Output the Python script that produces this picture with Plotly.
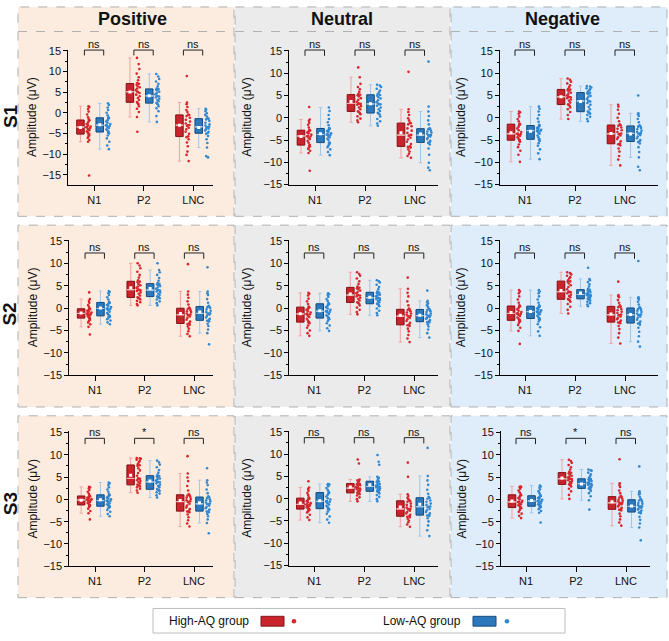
import numpy as np
import plotly.graph_objects as go

# ---------------- data (amplitudes in µV, one value per participant) ----------------
COMPONENTS = ["N1", "P2", "LNC"]
CONDITIONS = ["Positive", "Neutral", "Negative"]
SESSIONS = ["S1", "S2", "S3"]
GROUP_NAMES = ["High-AQ group", "Low-AQ group"]
Y_TICKS = [-15, -10, -5, 0, 5, 10, 15]

# S1 - Positive
S1_POS_HIGH_N1 = [-15.2, -7.0, -6.6, -6.1, -5.8, -5.5, -5.3, -5.1, -4.8, -4.5, -4.2, -3.9, -3.7, -3.5, -3.4, -3.3, -3.0, -2.7, -2.4, -2.1, -1.8, -1.6, -1.1, -0.4, 0.3, 0.9, 1.4, 1.6]
S1_POS_HIGH_P2 = [-4.6, -1.0, 0.2, 1.0, 1.6, 2.1, 2.4, 2.6, 3.1, 3.6, 4.0, 4.4, 4.8, 5.05, 5.15, 5.5, 5.9, 6.2, 6.5, 6.8, 7.05, 7.2, 7.9, 8.6, 9.5, 10.6, 11.8, 13.3]
S1_POS_HIGH_LNC = [-11.7, -10.2, -9.4, -8.1, -7.2, -6.4, -5.9, -5.7, -5.1, -4.6, -4.0, -3.6, -3.2, -3.05, -2.95, -2.6, -2.1, -1.7, -1.2, -0.8, -0.55, -0.4, 0.2, 0.7, 1.4, 2.1, 2.5, 8.9]
S1_POS_LOW_N1 = [-8.8, -7.9, -7.0, -6.2, -5.5, -5.0, -4.8, -4.6, -4.3, -4.0, -3.7, -3.4, -3.2, -3.05, -2.95, -2.7, -2.4, -2.1, -1.8, -1.5, -1.25, -1.1, -0.6, 0.0, 0.7, 1.3, 1.9, 2.3]
S1_POS_LOW_P2 = [-2.2, -0.8, 0.4, 1.1, 1.6, 2.0, 2.2, 2.4, 2.8, 3.1, 3.4, 3.7, 3.95, 4.05, 4.15, 4.5, 4.8, 5.1, 5.4, 5.6, 5.75, 5.9, 6.4, 7.0, 7.6, 8.2, 8.8, 9.4]
S1_POS_LOW_LNC = [-10.8, -10.5, -8.4, -7.3, -6.4, -5.6, -5.1, -4.9, -4.6, -4.3, -4.0, -3.8, -3.55, -3.45, -3.35, -3.1, -2.8, -2.4, -2.0, -1.6, -1.45, -1.3, -0.9, -0.5, -0.1, 0.4, 0.8, 1.0]
# S1 - Neutral
S1_NEU_HIGH_N1 = [-11.9, -7.9, -7.4, -7.0, -6.7, -6.4, -6.25, -6.1, -5.6, -5.2, -4.8, -4.5, -4.2, -4.15, -4.05, -3.8, -3.5, -3.3, -3.1, -2.9, -2.85, -2.7, -2.2, -1.6, -1.1, -0.7, -0.4, 2.4]
S1_NEU_HIGH_P2 = [-1.0, -0.6, -0.2, 0.3, 0.8, 1.1, 1.3, 1.45, 1.9, 2.3, 2.6, 2.9, 3.1, 3.15, 3.25, 3.6, 4.0, 4.4, 4.8, 5.05, 5.15, 5.3, 5.8, 6.4, 6.9, 7.6, 9.1, 11.3]
S1_NEU_HIGH_LNC = [-9.0, -8.6, -8.1, -7.6, -7.1, -6.7, -6.55, -6.4, -5.9, -5.4, -4.9, -4.5, -4.1, -3.95, -3.85, -3.4, -2.9, -2.4, -1.9, -1.5, -1.25, -1.1, -0.6, -0.1, 0.6, 1.3, 1.9, 10.3]
S1_NEU_LOW_N1 = [-8.4, -7.7, -7.1, -6.6, -6.2, -5.8, -5.65, -5.55, -5.0, -4.7, -4.4, -4.1, -3.85, -3.8, -3.7, -3.5, -3.2, -3.0, -2.8, -2.55, -2.45, -2.3, -1.7, -1.0, -0.3, 0.6, 1.5, 2.3]
S1_NEU_LOW_P2 = [-1.8, -1.3, -0.8, -0.3, 0.3, 0.8, 0.95, 1.1, 1.5, 1.9, 2.3, 2.7, 3.0, 3.05, 3.15, 3.5, 3.9, 4.3, 4.6, 4.95, 5.1, 5.3, 5.7, 6.1, 6.5, 6.9, 7.2, 7.4]
S1_NEU_LOW_LNC = [-11.8, -11.2, -10.1, -8.3, -6.9, -6.0, -5.65, -5.5, -5.2, -4.8, -4.5, -4.2, -4.0, -3.95, -3.85, -3.6, -3.3, -3.1, -2.9, -2.6, -2.5, -2.35, -1.5, -0.6, 0.4, 1.4, 2.5, 12.6]
# S1 - Negative
S1_NEG_HIGH_N1 = [-9.9, -8.3, -7.4, -6.6, -6.0, -5.4, -5.15, -5.0, -4.7, -4.4, -4.1, -3.9, -3.7, -3.65, -3.55, -3.2, -2.8, -2.4, -2.0, -1.6, -1.5, -1.3, -0.8, -0.3, 0.3, 0.9, 1.2, 1.4]
S1_NEG_HIGH_P2 = [-0.3, 0.6, 1.3, 1.9, 2.3, 2.7, 2.85, 3.0, 3.4, 3.8, 4.1, 4.4, 4.6, 4.65, 4.75, 5.0, 5.3, 5.6, 5.9, 6.2, 6.3, 6.5, 6.9, 7.3, 7.7, 8.1, 8.5, 8.8]
S1_NEG_HIGH_LNC = [-10.7, -9.4, -8.6, -7.6, -6.9, -6.2, -5.95, -5.8, -5.3, -4.8, -4.4, -4.0, -3.7, -3.65, -3.55, -3.2, -2.8, -2.5, -2.2, -1.8, -1.7, -1.5, -0.8, 0.0, 0.9, 1.8, 2.5, 2.9]
S1_NEG_LOW_N1 = [-9.3, -8.0, -7.1, -6.3, -5.7, -5.2, -4.95, -4.8, -4.4, -4.0, -3.6, -3.3, -3.0, -2.95, -2.85, -2.7, -2.5, -2.3, -2.1, -1.9, -1.8, -1.6, -0.9, -0.2, 0.6, 1.4, 2.0, 2.5]
S1_NEG_LOW_P2 = [-0.8, -0.3, 0.2, 0.6, 0.9, 1.1, 1.25, 1.4, 1.9, 2.4, 2.9, 3.3, 3.65, 3.7, 3.8, 4.2, 4.6, 4.9, 5.2, 5.5, 5.6, 5.8, 6.1, 6.4, 6.6, 6.8, 7.0, 7.1]
S1_NEG_LOW_LNC = [-11.8, -11.0, -8.9, -7.7, -6.6, -5.8, -5.45, -5.3, -5.0, -4.6, -4.2, -3.9, -3.6, -3.55, -3.45, -3.2, -2.9, -2.6, -2.3, -2.0, -1.9, -1.7, -1.0, -0.3, 0.4, 0.8, 1.0, 5.0]
# S2 - Positive
S2_POS_HIGH_N1 = [-5.9, -4.2, -3.6, -3.2, -2.9, -2.6, -2.35, -2.2, -2.0, -1.8, -1.6, -1.45, -1.3, -1.25, -1.15, -1.0, -0.8, -0.6, -0.45, -0.3, -0.2, -0.05, 0.3, 0.7, 1.2, 1.6, 2.0, 3.5]
S2_POS_HIGH_P2 = [0.6, 0.9, 1.3, 1.6, 1.9, 2.15, 2.25, 2.4, 2.8, 3.2, 3.5, 3.8, 4.0, 4.05, 4.15, 4.5, 4.8, 5.1, 5.4, 5.8, 5.9, 6.2, 6.8, 7.4, 8.1, 8.9, 9.5, 10.0]
S2_POS_HIGH_LNC = [-6.3, -5.8, -5.2, -4.6, -4.1, -3.7, -3.55, -3.4, -3.0, -2.6, -2.2, -1.9, -1.6, -1.55, -1.45, -1.2, -0.9, -0.7, -0.5, -0.2, -0.1, 0.1, 0.8, 1.5, 2.3, 3.0, 3.7, 9.8]
S2_POS_LOW_N1 = [-3.6, -3.2, -2.8, -2.5, -2.2, -1.95, -1.85, -1.7, -1.4, -1.1, -0.8, -0.5, -0.2, -0.15, -0.05, 0.2, 0.45, 0.7, 0.9, 1.1, 1.2, 1.4, 1.9, 2.4, 2.9, 3.3, 3.6, 3.8]
S2_POS_LOW_P2 = [0.6, 1.1, 1.5, 1.9, 2.2, 2.4, 2.45, 2.6, 2.9, 3.2, 3.5, 3.7, 3.9, 3.95, 4.05, 4.3, 4.6, 4.9, 5.1, 5.3, 5.4, 5.6, 6.1, 6.7, 7.4, 8.0, 8.5, 10.0]
S2_POS_LOW_LNC = [-8.1, -5.6, -4.8, -4.0, -3.5, -3.0, -2.85, -2.7, -2.4, -2.1, -1.8, -1.5, -1.3, -1.25, -1.15, -0.9, -0.6, -0.3, 0.0, 0.2, 0.3, 0.5, 1.2, 2.0, 2.9, 3.3, 3.7, 9.1]
# S2 - Neutral
S2_NEU_HIGH_N1 = [-6.2, -5.6, -5.0, -4.4, -3.9, -3.4, -3.25, -3.1, -2.8, -2.4, -2.0, -1.7, -1.4, -1.35, -1.25, -1.0, -0.7, -0.4, -0.2, 0.05, 0.15, 0.35, 0.9, 1.5, 2.1, 2.8, 3.2, 3.4]
S2_NEU_HIGH_P2 = [-1.4, -0.9, -0.4, 0.1, 0.6, 1.0, 1.15, 1.3, 1.7, 2.0, 2.3, 2.6, 2.8, 2.85, 2.95, 3.3, 3.6, 3.9, 4.2, 4.45, 4.55, 4.8, 5.4, 6.0, 6.6, 7.2, 7.6, 8.0]
S2_NEU_HIGH_LNC = [-7.6, -6.8, -6.0, -5.2, -4.6, -4.0, -3.85, -3.7, -3.3, -2.9, -2.5, -2.2, -1.9, -1.85, -1.75, -1.5, -1.2, -1.0, -0.7, -0.45, -0.35, -0.1, 0.6, 1.5, 2.6, 3.4, 4.3, 6.8]
S2_NEU_LOW_N1 = [-5.1, -4.5, -3.9, -3.4, -2.9, -2.5, -2.35, -2.2, -1.9, -1.6, -1.3, -1.0, -0.8, -0.75, -0.65, -0.4, -0.1, 0.2, 0.5, 0.8, 0.9, 1.1, 1.6, 2.0, 2.5, 2.9, 3.1, 3.3]
S2_NEU_LOW_P2 = [-1.6, -1.1, -0.6, -0.1, 0.4, 0.75, 0.85, 1.0, 1.3, 1.6, 1.8, 2.0, 2.2, 2.25, 2.35, 2.6, 2.8, 3.0, 3.2, 3.35, 3.45, 3.7, 4.2, 4.7, 5.2, 5.7, 6.0, 6.2]
S2_NEU_LOW_LNC = [-6.6, -5.6, -4.8, -4.1, -3.6, -3.2, -3.15, -3.0, -2.7, -2.4, -2.2, -2.0, -1.8, -1.75, -1.65, -1.4, -1.2, -0.9, -0.7, -0.45, -0.35, -0.2, 0.2, 0.6, 1.0, 1.3, 1.6, 3.9]
# S2 - Negative
S2_NEG_HIGH_N1 = [-8.0, -5.1, -4.4, -3.8, -3.3, -3.0, -2.85, -2.7, -2.4, -2.1, -1.8, -1.5, -1.3, -1.25, -1.15, -0.9, -0.6, -0.3, 0.0, 0.3, 0.4, 0.6, 1.2, 1.9, 2.6, 3.3, 3.7, 4.0]
S2_NEG_HIGH_P2 = [-1.2, -0.4, 0.3, 0.9, 1.4, 1.75, 1.85, 2.0, 2.4, 2.7, 3.0, 3.3, 3.55, 3.6, 3.7, 4.2, 4.7, 5.1, 5.5, 5.85, 5.95, 6.2, 6.6, 6.9, 7.2, 7.5, 7.8, 8.0]
S2_NEG_HIGH_LNC = [-7.9, -6.6, -5.6, -4.7, -4.0, -3.4, -3.25, -3.1, -2.8, -2.5, -2.2, -1.9, -1.6, -1.55, -1.45, -1.1, -0.8, -0.5, -0.2, 0.2, 0.3, 0.6, 1.2, 1.8, 2.4, 2.7, 2.9, 5.9]
S2_NEG_LOW_N1 = [-6.2, -5.2, -4.3, -3.6, -3.0, -2.6, -2.45, -2.3, -2.0, -1.7, -1.4, -1.1, -0.9, -0.85, -0.75, -0.5, -0.3, -0.1, 0.1, 0.25, 0.35, 0.6, 1.2, 1.9, 2.6, 3.3, 3.7, 4.0]
S2_NEG_LOW_P2 = [0.4, 0.8, 1.1, 1.4, 1.7, 1.9, 1.95, 2.1, 2.3, 2.5, 2.7, 2.85, 2.95, 3.0, 3.05, 3.2, 3.4, 3.6, 3.8, 3.95, 4.05, 4.3, 4.8, 5.3, 5.8, 6.2, 6.5, 9.0]
S2_NEG_LOW_LNC = [-8.6, -7.5, -6.3, -5.3, -4.4, -3.7, -3.45, -3.3, -3.0, -2.6, -2.2, -1.9, -1.6, -1.55, -1.45, -1.2, -0.9, -0.6, -0.4, -0.2, -0.05, 0.2, 0.8, 1.4, 1.9, 2.2, 2.4, 10.5]
# S3 - Positive
S3_POS_HIGH_N1 = [-4.5, -3.1, -2.6, -2.1, -1.7, -1.45, -1.35, -1.2, -1.0, -0.8, -0.6, -0.4, -0.2, -0.15, -0.1, 0.05, 0.2, 0.35, 0.5, 0.65, 0.7, 0.9, 1.3, 1.7, 2.1, 2.5, 2.7, 2.8]
S3_POS_HIGH_P2 = [1.5, 2.0, 2.4, 2.7, 2.9, 3.1, 3.15, 3.3, 3.6, 3.9, 4.1, 4.3, 4.6, 4.65, 4.75, 5.3, 5.9, 6.5, 7.0, 7.5, 7.65, 7.9, 8.3, 8.6, 8.9, 9.1, 9.2, 9.3]
S3_POS_HIGH_LNC = [-6.1, -5.4, -4.7, -4.0, -3.4, -2.9, -2.75, -2.6, -2.2, -1.8, -1.4, -1.0, -0.6, -0.55, -0.45, -0.2, 0.1, 0.4, 0.6, 0.85, 0.95, 1.2, 2.0, 3.0, 4.1, 4.9, 5.8, 9.7]
S3_POS_LOW_N1 = [-3.8, -3.3, -2.8, -2.4, -2.0, -1.7, -1.65, -1.5, -1.3, -1.1, -0.9, -0.6, -0.35, -0.3, -0.25, 0.0, 0.2, 0.4, 0.6, 0.85, 0.95, 1.2, 1.7, 2.2, 2.7, 3.2, 3.6, 3.8]
S3_POS_LOW_P2 = [0.4, 0.9, 1.3, 1.6, 1.9, 2.1, 2.15, 2.3, 2.7, 3.0, 3.3, 3.6, 3.85, 3.9, 3.95, 4.2, 4.5, 4.7, 4.9, 5.15, 5.25, 5.5, 6.0, 6.6, 7.2, 7.8, 8.3, 8.7]
S3_POS_LOW_LNC = [-7.6, -5.3, -4.5, -3.8, -3.3, -2.9, -2.75, -2.6, -2.3, -2.0, -1.7, -1.4, -1.1, -1.05, -0.95, -0.7, -0.4, -0.2, 0.0, 0.3, 0.45, 0.7, 1.4, 2.2, 3.2, 3.8, 4.3, 7.0]
# S3 - Neutral
S3_NEU_HIGH_N1 = [-4.8, -4.2, -3.6, -3.1, -2.8, -2.55, -2.45, -2.3, -2.1, -1.9, -1.7, -1.5, -1.35, -1.3, -1.25, -1.0, -0.8, -0.55, -0.3, -0.05, 0.05, 0.3, 0.8, 1.3, 1.8, 2.2, 2.5, 3.9]
S3_NEU_HIGH_P2 = [-0.6, -0.1, 0.3, 0.7, 1.0, 1.15, 1.2, 1.35, 1.6, 1.8, 2.0, 2.15, 2.3, 2.35, 2.4, 2.6, 2.8, 3.0, 3.15, 3.25, 3.35, 3.5, 3.8, 4.0, 4.1, 4.3, 7.9, 8.8]
S3_NEU_HIGH_LNC = [-6.3, -5.8, -5.3, -4.9, -4.5, -4.15, -4.05, -3.9, -3.6, -3.3, -3.0, -2.7, -2.4, -2.35, -2.25, -2.0, -1.7, -1.4, -1.1, -0.7, -0.55, -0.3, -0.1, 0.2, 0.6, 1.0, 4.9, 8.1]
S3_NEU_LOW_N1 = [-5.4, -4.7, -4.0, -3.4, -2.9, -2.45, -2.35, -2.2, -1.9, -1.6, -1.3, -1.0, -0.7, -0.65, -0.55, -0.2, 0.1, 0.5, 0.8, 1.15, 1.3, 1.6, 2.0, 2.4, 2.8, 3.1, 3.2, 3.3]
S3_NEU_LOW_P2 = [-0.6, -0.1, 0.4, 0.8, 1.2, 1.5, 1.55, 1.7, 1.9, 2.1, 2.3, 2.5, 2.65, 2.7, 2.75, 2.9, 3.1, 3.3, 3.5, 3.75, 3.85, 4.1, 4.5, 4.7, 4.9, 7.6, 8.3, 9.8]
S3_NEU_LOW_LNC = [-8.4, -7.1, -6.0, -5.1, -4.4, -3.9, -3.8, -3.65, -3.3, -3.0, -2.6, -2.3, -1.9, -1.85, -1.75, -1.4, -1.1, -0.7, -0.4, 0.0, 0.15, 0.4, 1.1, 2.0, 3.1, 4.1, 5.1, 11.4]
# S3 - Negative
S3_NEG_HIGH_N1 = [-4.2, -3.7, -3.2, -2.8, -2.4, -2.0, -1.95, -1.8, -1.5, -1.3, -1.1, -0.9, -0.65, -0.6, -0.55, -0.3, 0.0, 0.3, 0.55, 0.8, 0.95, 1.2, 1.6, 2.0, 2.4, 2.7, 2.8, 2.9]
S3_NEG_HIGH_P2 = [0.1, 1.0, 1.8, 2.4, 2.9, 3.2, 3.25, 3.4, 3.7, 3.9, 4.1, 4.3, 4.55, 4.6, 4.65, 4.9, 5.1, 5.3, 5.6, 5.85, 5.95, 6.2, 6.7, 7.2, 7.7, 8.2, 8.6, 8.9]
S3_NEG_HIGH_LNC = [-5.9, -5.2, -4.5, -3.8, -3.2, -2.5, -2.35, -2.2, -1.9, -1.6, -1.3, -1.1, -0.85, -0.8, -0.75, -0.5, -0.3, -0.1, 0.15, 0.4, 0.55, 0.8, 1.4, 2.0, 2.8, 3.2, 3.6, 9.0]
S3_NEG_LOW_N1 = [-5.2, -3.0, -2.6, -2.2, -1.9, -1.7, -1.65, -1.5, -1.3, -1.1, -0.9, -0.7, -0.45, -0.4, -0.35, -0.1, 0.1, 0.3, 0.5, 0.65, 0.75, 1.0, 1.4, 1.8, 2.2, 2.6, 2.9, 3.1]
S3_NEG_LOW_P2 = [-2.3, -0.2, 0.7, 1.4, 1.9, 2.25, 2.35, 2.5, 2.7, 2.9, 3.1, 3.3, 3.45, 3.5, 3.55, 3.7, 3.9, 4.1, 4.3, 4.45, 4.55, 4.8, 5.2, 5.6, 6.0, 6.4, 6.55, 6.7]
S3_NEG_LOW_LNC = [-9.2, -6.3, -5.4, -4.6, -3.9, -3.1, -2.95, -2.8, -2.5, -2.3, -2.1, -1.9, -1.65, -1.6, -1.55, -1.3, -1.0, -0.8, -0.5, -0.25, -0.15, 0.1, 0.6, 1.1, 1.3, 1.5, 1.8, 7.4]

# significance labels (N1, P2, LNC)
SIG_S1_POS = ["ns", "ns", "ns"]
SIG_S1_NEU = ["ns", "ns", "ns"]
SIG_S1_NEG = ["ns", "ns", "ns"]
SIG_S2_POS = ["ns", "ns", "ns"]
SIG_S2_NEU = ["ns", "ns", "ns"]
SIG_S2_NEG = ["ns", "ns", "ns"]
SIG_S3_POS = ["ns", "*", "ns"]
SIG_S3_NEU = ["ns", "ns", "ns"]
SIG_S3_NEG = ["ns", "*", "ns"]

# ---------------- layout / style ----------------
W, H = 669, 641
FONT = "Liberation Sans, Arial, Helvetica, sans-serif"
COND_KEYS = ["POS", "NEU", "NEG"]
GROUP_KEYS = ["HIGH", "LOW"]

STYLE = {
    "HIGH": dict(fill="#C9232B", edge="#801519", whisker="#EFA3A0", median="#F3B5B1", point="#D9252B"),
    "LOW": dict(fill="#2C78BC", edge="#184B7B", whisker="#A3C6E8", median="#AACDEE", point="#3088D2"),
}
BOX_OFF = {"HIGH": -0.28, "LOW": 0.11}
PTS_OFF = {"HIGH": -0.115, "LOW": 0.28}
BOX_W = 0.15
PTS_W = 0.1
PT_SIZE = 2.6
BR_X = (-0.2, 0.19)
BR_TOP = [15.2, 12.3, 13.7]
BR_LEG = 1.3
Y_TOP_PAD = 0.3

# pixel geometry of each panel: y-axis x pos, x-axis right end, category 1/3 px, px of y=15 / y=-15, x-axis y px
PANEL_PX = [
    [dict(xl=68.3, xr=213, c1=94.3, c3=193.3, p15=46.7, pm15=172.7, yb=182.7),
     dict(xl=289.3, xr=438, c1=315, c3=415, p15=46.7, pm15=182.7, yb=182.7),
     dict(xl=500, xr=658, c1=525, c3=625, p15=46.7, pm15=182.7, yb=182.7)],
    [dict(xl=69.3, xr=213, c1=95, c3=194.3, p15=240, pm15=376.7, yb=376.7),
     dict(xl=289.3, xr=438, c1=314.3, c3=414.3, p15=240, pm15=376.7, yb=376.7),
     dict(xl=500, xr=658, c1=525, c3=625, p15=240, pm15=376.7, yb=376.7)],
    [dict(xl=69.3, xr=213, c1=95, c3=194, p15=435, pm15=571, yb=571),
     dict(xl=289.3, xr=438, c1=314.3, c3=414.3, p15=434.3, pm15=570.3, yb=570.3),
     dict(xl=501, xr=650, c1=526, c3=626, p15=435, pm15=571, yb=571)],
]
TITLE_STANDOFF = [3, 9, 5]
ROW_PX = [(2, 215), (224, 409), (418, 603)]
COL_PX = [(18, 234), (235, 450), (451, 667)]
COL_BG = ["#FCECDF", "#EBEBEB", "#DFECF9"]
HEADER_LINE_PX = 27
HEADER_X_PX = [132, 342, 562]
HEADER_Y_PX = 14
ROW_LABEL_X_PX = 10
ROW_LABEL_Y_PX = [113, 315, 508]


def px(x):
    return x / W


def py(y):
    return 1 - y / H


def box_stats(v):
    a = np.asarray(v, float)
    q1, med, q3 = np.percentile(a, [25, 50, 75])
    iqr = q3 - q1
    lf = a[a >= q1 - 1.5 * iqr].min()
    uf = a[a <= q3 + 1.5 * iqr].max()
    return q1, med, q3, lf, uf, a.mean()


fig = go.Figure()
layout = {}
shapes = []
annotations = []

# background panels
for r, (y0, y1) in enumerate(ROW_PX):
    for c, (x0, x1) in enumerate(COL_PX):
        shapes.append(dict(type="rect", xref="paper", yref="paper", x0=px(x0), x1=px(x1), y0=py(y1), y1=py(y0),
                           fillcolor=COL_BG[c], line=dict(color="#AFAFAF", width=1, dash="dash"), layer="below"))
        if r == 0:
            shapes.append(dict(type="line", xref="paper", yref="paper", x0=px(x0), x1=px(x1),
                               y0=py(HEADER_LINE_PX), y1=py(HEADER_LINE_PX),
                               line=dict(color="#AFAFAF", width=1, dash="dash"), layer="below"))

for c, cond in enumerate(CONDITIONS):
    annotations.append(dict(text=f"<b>{cond}</b>", xref="paper", yref="paper", x=px(HEADER_X_PX[c]),
                            y=py(HEADER_Y_PX), xanchor="center", yanchor="middle", showarrow=False,
                            font=dict(family=FONT, size=18, color="#111")))
for r, s in enumerate(SESSIONS):
    annotations.append(dict(text=f"<b>{s}</b>", xref="paper", yref="paper", x=px(ROW_LABEL_X_PX),
                            y=py(ROW_LABEL_Y_PX[r]), xanchor="center", yanchor="middle", showarrow=False,
                            textangle=-90, font=dict(family=FONT, size=19, color="#111")))

for r, s in enumerate(SESSIONS):
    for c, ck in enumerate(COND_KEYS):
        k = r * 3 + c
        xa = "x" if k == 0 else f"x{k + 1}"
        ya = "y" if k == 0 else f"y{k + 1}"
        g = PANEL_PX[r][c]
        ppu_y = (g["pm15"] - g["p15"]) / 30.0
        y_lo = -15 - (g["yb"] - g["pm15"]) / ppu_y
        y_hi = 15 + Y_TOP_PAD
        ytop_px = g["p15"] - Y_TOP_PAD * ppu_y
        ppu_x = (g["c3"] - g["c1"]) / 2.0
        x_lo = 1 - (g["c1"] - g["xl"]) / ppu_x
        x_hi = 3 + (g["xr"] - g["c3"]) / ppu_x

        layout["xaxis" if k == 0 else f"xaxis{k + 1}"] = dict(
            domain=[px(g["xl"]), px(g["xr"])], range=[x_lo, x_hi], anchor=ya,
            tickmode="array", tickvals=[1, 2, 3], ticktext=COMPONENTS,
            ticks="outside", ticklen=5, tickwidth=1, tickcolor="#000",
            showline=True, linecolor="#000", linewidth=1, showgrid=False, zeroline=False,
            tickfont=dict(family=FONT, size=11, color="#111"), fixedrange=True)
        layout["yaxis" if k == 0 else f"yaxis{k + 1}"] = dict(
            domain=[py(g["yb"]), py(ytop_px)], range=[y_lo, y_hi], anchor=xa,
            tickmode="array", tickvals=Y_TICKS,
            ticks="outside", ticklen=4, tickwidth=1, tickcolor="#000",
            minor=dict(ticks="outside", ticklen=2, tickwidth=1, tickcolor="#000", dtick=2.5, tick0=0, showgrid=False),
            showline=True, linecolor="#000", linewidth=1, showgrid=False, zeroline=False,
            tickfont=dict(family=FONT, size=11, color="#111"),
            title=dict(text="Amplitude (μV)", font=dict(family=FONT, size=12, color="#111"),
                       standoff=TITLE_STANDOFF[c]),
            fixedrange=True)

        for gk in GROUP_KEYS:
            st = STYLE[gk]
            vals = [globals()[f"{s}_{ck}_{gk}_{comp}"] for comp in COMPONENTS]
            stats = [box_stats(v) for v in vals]
            pos = [i + 1 + BOX_OFF[gk] for i in range(3)]
            q1 = [t[0] for t in stats]
            med = [t[1] for t in stats]
            q3 = [t[2] for t in stats]
            lf = [t[3] for t in stats]
            uf = [t[4] for t in stats]
            mean = [t[5] for t in stats]
            common = dict(xaxis=xa, yaxis=ya, orientation="v", width=BOX_W, showlegend=False,
                          hoverinfo="skip", boxpoints=False)
            # whiskers (light)
            fig.add_trace(go.Box(x=pos, q1=q1, median=med, q3=q3, lowerfence=lf, upperfence=uf,
                                 fillcolor="rgba(0,0,0,0)", line=dict(color=st["whisker"], width=1),
                                 whiskerwidth=0.45, **common))
            # filled box
            fig.add_trace(go.Box(x=pos, q1=q1, median=med, q3=q3, lowerfence=q1, upperfence=q3,
                                 fillcolor=st["fill"], line=dict(color=st["edge"], width=1),
                                 whiskerwidth=0, **common))
            # median line (light)
            fig.add_trace(go.Box(x=pos, q1=med, median=med, q3=med, lowerfence=med, upperfence=med,
                                 fillcolor="rgba(0,0,0,0)", line=dict(color=st["median"], width=1),
                                 whiskerwidth=0, **common))
            # mean marker
            fig.add_trace(go.Scatter(x=pos, y=mean, xaxis=xa, yaxis=ya, mode="markers",
                                     marker=dict(symbol="square", size=3, color="white"),
                                     showlegend=False, hoverinfo="skip"))
            # raw points (jittered)
            xs, ys = [], []
            for i, v in enumerate(vals):
                xs += [i + 1 + PTS_OFF[gk]] * len(v)
                ys += list(v)
            fig.add_trace(go.Box(x=xs, y=ys, xaxis=xa, yaxis=ya, orientation="v", width=PTS_W,
                                 boxpoints="all", jitter=1.0, pointpos=0,
                                 fillcolor="rgba(0,0,0,0)", line=dict(color="rgba(0,0,0,0)", width=0),
                                 whiskerwidth=0,
                                 marker=dict(size=PT_SIZE, color=st["point"], line=dict(width=0)),
                                 showlegend=False, hoverinfo="skip"))

        # significance brackets
        sig = globals()[f"SIG_{s}_{ck}"]
        ytop_d = (BR_TOP[r] - y_lo) / (y_hi - y_lo)
        yleg_d = (BR_TOP[r] - BR_LEG - y_lo) / (y_hi - y_lo)
        for i in range(3):
            x0 = i + 1 + BR_X[0]
            x1 = i + 1 + BR_X[1]
            shapes.append(dict(type="path", xref=xa, yref=f"{ya} domain",
                               path=f"M{x0},{yleg_d} L{x0},{ytop_d} L{x1},{ytop_d} L{x1},{yleg_d}",
                               line=dict(color="#222", width=1)))
            annotations.append(dict(text=sig[i], xref=xa, yref=f"{ya} domain", x=(x0 + x1) / 2, y=ytop_d,
                                    xanchor="center", yanchor="bottom", showarrow=False, yshift=-2,
                                    font=dict(family=FONT, size=11, color="#111")))

# legend box
LEG_BOX = (153, 614, 565, 639)
LEG_Y = 627
shapes.append(dict(type="rect", xref="paper", yref="paper", x0=px(LEG_BOX[0]), x1=px(LEG_BOX[2]),
                   y0=py(LEG_BOX[3]), y1=py(LEG_BOX[1]), fillcolor="white",
                   line=dict(color="#BDBDBD", width=1)))
LEG_ITEMS = [(167, 261, 294, "HIGH"), (381, 473, 507, "LOW")]
for (tx, rx, dx, gk), name in zip(LEG_ITEMS, GROUP_NAMES):
    st = STYLE[gk]
    annotations.append(dict(text=name, xref="paper", yref="paper", x=px(tx), y=py(LEG_Y),
                            xanchor="left", yanchor="middle", showarrow=False,
                            font=dict(family=FONT, size=12, color="#111")))
    shapes.append(dict(type="rect", xref="paper", yref="paper", x0=px(rx), x1=px(rx + 23),
                       y0=py(LEG_Y + 5), y1=py(LEG_Y - 5), fillcolor=st["fill"],
                       line=dict(color=st["edge"], width=1)))
    shapes.append(dict(type="circle", xref="paper", yref="paper", x0=px(dx - 2.3), x1=px(dx + 2.3),
                       y0=py(LEG_Y + 2.3), y1=py(LEG_Y - 2.3), fillcolor=st["point"],
                       line=dict(width=0)))

fig.update_layout(
    width=W, height=H, margin=dict(l=0, r=0, t=0, b=0),
    paper_bgcolor="white", plot_bgcolor="rgba(0,0,0,0)",
    showlegend=False, boxmode="overlay",
    shapes=shapes, annotations=annotations,
    font=dict(family=FONT, size=11, color="#111"),
    **layout,
)

fig.write_html("out.html")
